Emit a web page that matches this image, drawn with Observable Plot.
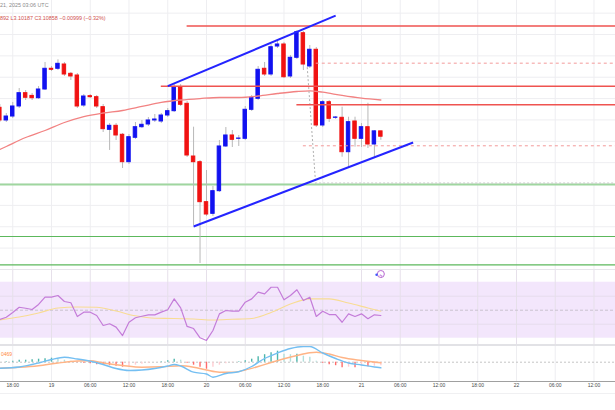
<!DOCTYPE html>
<html><head><meta charset="utf-8">
<script src="https://cdn.jsdelivr.net/npm/d3@7"></script>
<script src="https://cdn.jsdelivr.net/npm/@observablehq/plot@0.6"></script>
<style>
html,body{margin:0;padding:0;background:#fff;}
#root{position:relative;width:615px;height:410px;overflow:hidden;font-family:"Liberation Sans",Arial,sans-serif;background:#fff;}
.pane{position:absolute;left:0;width:615px;}
.pane svg{display:block;}
.sep{position:absolute;left:0;width:615px;z-index:5;}
.hdr{position:absolute;left:0;font-size:5.4px;line-height:1;white-space:nowrap;z-index:6;}
</style></head><body><div id="root">
<div class="pane" id="mainPane" style="top:0;height:270px"></div>
<div class="pane" id="rsiPane" style="top:270px;height:75px"></div>
<div class="pane" id="macdPane" style="top:345px;height:50px"></div>
</div>
<script>
// ---------- data ----------
const headerLine1 = "21, 2025 03:06 UTC";
const headerLine2 = "892  L3.10187  C3.10858  \u22120.00999 (\u22120.32%)";
const macdLabel = "0469";

const firstCandle = "01-18T16";
const lastCandleEnd = "01-21T04";
const opens  = [3.1627,3.1390,3.1464,3.1652,3.1901,3.1850,3.1807,3.1970,3.2358,3.2358,3.2438,3.2264,3.2232,3.1670,3.1845,3.1826,3.1639,3.1215,3.1290,3.1122,3.0609,3.1066,3.1264,3.1315,3.1390,3.1371,3.1483,3.1564,3.2002,3.1702,3.0715,3.0609,2.9860,2.9642,3.0066,3.0903,3.1109,3.1047,3.1047,3.1590,3.1796,3.2358,3.2251,3.2775,3.2813,3.2214,3.2564,3.3024,3.2401,3.2714,3.1296,3.1732,3.1440,3.1440,3.0796,3.1371,3.1047,3.1264,3.0940,3.1186];
const closes = [3.1390,3.1464,3.1652,3.1901,3.1815,3.1807,3.1970,3.2358,3.2339,3.2451,3.2251,3.2214,3.1652,3.1839,3.1826,3.1652,3.1227,3.1290,3.1109,3.0609,3.1077,3.1264,3.1309,3.1390,3.1408,3.1483,3.1564,3.2002,3.1684,3.0734,3.0609,2.9860,2.9629,3.0066,3.0903,3.1109,3.1028,3.1052,3.1590,3.1815,3.2339,3.2251,3.2762,3.2813,3.2200,3.2564,3.3043,3.2438,3.2714,3.1296,3.1732,3.1421,3.1446,3.0796,3.1358,3.1047,3.1264,3.0940,3.1186,3.1086];
const highs  = [3.1689,3.1521,3.1727,3.1989,3.1951,3.1895,3.2026,3.2476,3.2401,3.2526,3.2476,3.2288,3.2270,3.1876,3.1876,3.1858,3.1689,3.1333,3.1333,3.1146,3.1127,3.1352,3.1390,3.1446,3.1502,3.1521,3.1614,3.2064,3.2064,3.1745,3.1264,3.0640,3.0453,3.0154,3.1015,3.1258,3.1202,3.1109,3.1652,3.1858,3.2401,3.2476,3.2813,3.2888,3.2850,3.2607,3.3075,3.3056,3.2794,3.2757,3.1764,3.1764,3.1464,3.1639,3.1451,3.1451,3.1333,3.1713,3.1202,3.1189];
const lows   = [3.1352,3.1352,3.1427,3.1614,3.1764,3.1764,3.1783,3.1951,3.2307,3.2326,3.2214,3.2139,3.1614,3.1633,3.1802,3.1614,3.1165,3.0828,3.1015,3.0491,3.0566,3.1034,3.1240,3.1277,3.1352,3.1333,3.1446,3.1539,3.1652,3.0697,2.9423,2.8712,2.9592,2.9592,3.0041,3.0884,3.0884,3.0903,3.1015,3.1558,3.1764,3.2214,3.2214,3.2738,3.2176,3.2176,3.2532,3.2326,3.2363,3.1258,3.1258,3.1352,3.1408,3.0702,3.0491,3.0890,3.0884,3.0865,3.0702,3.1019];

const maTimes  = ["01-18T16","01-18T17","01-18T20","01-18T23","01-19T02","01-19T05","01-19T08","01-19T11","01-19T14","01-19T17","01-19T20","01-19T23","01-20T02","01-20T05","01-20T08","01-20T11","01-20T14","01-20T16","01-20T18","01-20T21","01-21T00","01-21T03"];
const maValues = [3.0846,3.0903,3.1071,3.1202,3.1352,3.1464,3.1530,3.1577,3.1652,3.1727,3.1773,3.1801,3.1820,3.1820,3.1848,3.1895,3.1933,3.1946,3.1919,3.1858,3.1807,3.1773];

const resistLevels = [3.3159, 3.2032, 3.1684];
const resistStarts = ["01-19T21","01-19T17","01-20T14"];
const dashedLevels = [3.2463, 3.0916];
const dashedStarts = ["01-20T17","01-20T15"];
const supportLevels = [3.0191, 2.9217, 2.8684];

const channelStart = ["01-19T18","01-19T22"];
const channelStartP = [3.2032, 2.9405];
const channelEnd = ["01-20T20","01-21T08"];
const channelEndP = [3.3354, 3.0978];

const measureTimes = ["2025-01-20T15:36:00Z","2025-01-20T16:54:00Z"];
const measurePrices = [3.2388, 3.0210];
const measureLevel = 3.0219;

const priceGrid = [2.86,2.90,2.94,2.98,3.02,3.06,3.10,3.14,3.18,3.22,3.26,3.30,3.34];

const rsiValues = [43.4,45.0,48.4,52.1,51.4,50.5,54.1,59.4,59.4,60.5,56.2,55.3,45.5,48.6,48.6,46.2,39.1,40.3,37.9,31.9,41.4,44.6,45.7,46.7,46.7,48.6,50.3,58.1,51.7,38.4,36.9,30.3,28.4,35.5,47.4,49.8,49.3,49.3,55.7,58.1,62.9,61.7,66.4,66.4,57.4,60.5,64.6,56.9,59.3,45.5,49.3,46.9,46.9,41.4,47.4,45.5,47.4,43.9,46.7,46.2];
const rsiMaTimes  = ["01-18T16","01-18T19","01-18T22","01-19T01","01-19T04","01-19T07","01-19T10","01-19T13","01-19T16","01-19T19","01-19T22","01-20T01","01-20T04","01-20T07","01-20T10","01-20T13","01-20T16","01-20T19","01-20T22","01-21T01","01-21T03"];
const rsiMaValues = [43.1,45.1,48.0,51.6,52.3,52.1,49.4,46.0,44.2,44.1,43.7,43.0,43.5,44.1,48.4,54.4,58.1,58.1,55.1,51.6,49.3];
const rsiBand = [30, 70];
const rsiGrid = [40, 60, 80];
const flashTime = "01-21T03";

const macdTimes  = ["01-18T16","01-18T19","01-18T22","01-19T00","01-19T02","01-19T04","01-19T06","01-19T08","01-19T10","01-19T12","01-19T14","01-19T16","01-19T18","01-19T19","01-19T20","01-19T22","01-20T00","01-20T01","01-20T03","01-20T05","01-20T07","01-20T09","01-20T11","01-20T13","01-20T15","01-20T16","01-20T18","01-20T20","01-20T22","01-21T00","01-21T02","01-21T03"];
const macdValues = [-0.0060,-0.0048,-0.0008,0.0027,0.0050,0.0032,0.0010,-0.0023,-0.0063,-0.0083,-0.0078,-0.0063,-0.0038,-0.0023,-0.0038,-0.0100,-0.0118,-0.0150,-0.0113,-0.0096,-0.0043,0.0037,0.0092,0.0137,0.0157,0.0157,0.0092,0.0037,-0.0008,-0.0028,-0.0048,-0.0056];
const signalTimes  = ["01-18T16","01-18T19","01-18T22","01-19T01","01-19T04","01-19T06","01-19T08","01-19T11","01-19T14","01-19T17","01-19T20","01-19T22","01-20T00","01-20T02","01-20T04","01-20T06","01-20T08","01-20T10","01-20T12","01-20T14","01-20T16","01-20T17","01-20T19","01-20T21","01-21T00","01-21T03"];
const signalValues = [-0.0060,-0.0051,-0.0035,-0.0008,0.0012,0.0015,-0.0008,-0.0033,-0.0050,-0.0046,-0.0036,-0.0050,-0.0078,-0.0100,-0.0100,-0.0078,-0.0043,-0.0003,0.0034,0.0067,0.0095,0.0100,0.0082,0.0047,0.0017,-0.0006];
const histValues = [0,0.0005,0.001,0.002,0.002,0.0025,0.003,0.0035,0.004,0.003,0.002,0.001,-0.0005,-0.001,-0.0015,-0.0025,-0.003,-0.0035,-0.004,-0.005,-0.004,-0.003,-0.002,-0.001,0,0.0005,0.0015,0.003,0.002,-0.001,-0.003,-0.005,-0.007,-0.005,-0.003,-0.0015,-0.0005,0.0005,0.0015,0.003,0.0055,0.0075,0.0095,0.011,0.008,0.0075,0.008,0.006,0.005,0.001,-0.001,-0.0025,-0.0035,-0.0055,-0.005,-0.0055,-0.004,-0.0045,-0.004,-0.0035];

const xTickStart = "01-18T18";
const xTickEnd = "01-22T13";
const xTickLabels = ["18:00","19","06:00","12:00","18:00","20","06:00","12:00","18:00","21","06:00","12:00","18:00","22","06:00","12:00"];

// ---------- scales / helpers ----------
const T = s => new Date(`2025-${s}:00:00Z`);
const xDomain = [new Date("2025-01-18T16:06:11Z"), new Date("2025-01-22T15:20:02Z")];
const priceDomain = [2.85805, 3.36367];
const rsiDomain = [24.79, 78.36];
const macdDomain = [-0.0193, 0.0167];

const times = d3.utcHour.range(T(firstCandle), T(lastCandleEnd));
const candles = times.map((t, i) => ({t, o: opens[i], h: highs[i], l: lows[i], c: closes[i]}));
const bodyColor = d => d.c >= d.o ? "#1212f0" : "#f01212";
const xTicks = d3.utcHour.every(6).range(T(xTickStart), T(xTickEnd));
const maData = maTimes.map((s, i) => ({t: T(s), v: maValues[i]}));
const resist = resistLevels.map((p, i) => ({p, start: T(resistStarts[i])}));
const dashed = dashedLevels.map((p, i) => ({p, start: T(dashedStarts[i])}));
const channel = channelStart.map((s, i) => ({x1: T(s), y1: channelStartP[i], x2: T(channelEnd[i]), y2: channelEndP[i]}));
const rsiData = times.map((t, i) => ({t, v: rsiValues[i]}));
const rsiMa = rsiMaTimes.map((s, i) => ({t: T(s), v: rsiMaValues[i]}));
const macdData = macdTimes.map((s, i) => ({t: T(s), v: macdValues[i]}));
const signalData = signalTimes.map((s, i) => ({t: T(s), v: signalValues[i]}));
const hist = times.map((t, i) => {
  const v = histValues[i], prev = i > 0 ? histValues[i - 1] : v;
  let color;
  if (v >= 0) color = v >= prev ? "#4db6ac" : "#b2dfdb";
  else color = v <= prev ? "#ff6b6b" : "#ffcdd2";
  return {t, v, color};
});

const common = {
  width: 615, margin: 0,
  style: {background: "transparent", fontFamily: "Liberation Sans, Arial, sans-serif"},
  x: {type: "utc", domain: xDomain, axis: null},
  color: {type: "identity"}
};

// ---------- main price pane ----------
const mainPlot = Plot.plot({
  ...common, height: 270,
  y: {domain: priceDomain, axis: null},
  marks: [
    Plot.ruleY(priceGrid, {stroke: "#eeeef1", strokeWidth: 1}),
    Plot.ruleX(xTicks, {stroke: "#eeeef1", strokeWidth: 1}),
    Plot.ruleY([supportLevels[0]], {stroke: "#9fd69f", strokeWidth: 2}),
    Plot.ruleY(supportLevels.slice(1), {stroke: "#5cb85c", strokeWidth: 1.2}),
    Plot.ruleX(candles, {x: "t", y1: "l", y2: "h", stroke: "#b8b8b8", strokeWidth: 1}),
    Plot.rect(candles, {
      x1: d => new Date(+d.t - 16 * 6e4), x2: d => new Date(+d.t + 16 * 6e4),
      y1: d => Math.min(d.o, d.c), y2: d => Math.max(d.o, d.c),
      fill: bodyColor, stroke: bodyColor, strokeWidth: 1
    }),
    Plot.line(maData, {x: "t", y: "v", stroke: "#f28282", strokeWidth: 1.3, curve: "monotone-x"}),
    Plot.link([0], {x1: () => new Date(measureTimes[0]), y1: () => measurePrices[0], x2: () => new Date(measureTimes[1]), y2: () => measurePrices[1], stroke: "#b0b0b0", strokeWidth: 1, strokeDasharray: "2,2"}),
    Plot.ruleY([measureLevel], {x1: () => new Date(measureTimes[1]), x2: () => xDomain[1], stroke: "#c8c8c8", strokeWidth: 1, strokeDasharray: "2,2"}),
    Plot.ruleY(resist, {y: "p", x1: "start", x2: () => xDomain[1], stroke: "#ef5350", strokeWidth: 1.6}),
    Plot.ruleY(dashed, {y: "p", x1: "start", x2: () => xDomain[1], stroke: "#f39a9a", strokeWidth: 1, strokeDasharray: "3,3"}),
    Plot.link(channel, {x1: "x1", y1: "y1", x2: "x2", y2: "y2", stroke: "#2424ff", strokeWidth: 2})
  ]
});
document.getElementById("mainPane").appendChild(mainPlot);

// ---------- RSI pane ----------
const rsiPlot = Plot.plot({
  ...common, height: 75,
  y: {domain: rsiDomain, axis: null},
  marks: [
    Plot.rect([rsiBand], {x1: () => xDomain[0], x2: () => xDomain[1], y1: d => d[0], y2: d => d[1], fill: "#f3e6fc"}),
    Plot.ruleY(rsiGrid, {stroke: "#e6dced", strokeWidth: 1}),
    Plot.ruleX(xTicks, {stroke: "#e6e0ea", strokeWidth: 1}),
    Plot.ruleY([50], {stroke: "#c9c2cf", strokeWidth: 1, strokeDasharray: "3,2"}),
    Plot.line(rsiMa, {x: "t", y: "v", stroke: "#f8dc93", strokeWidth: 1.1, curve: "monotone-x"}),
    Plot.line(rsiData, {x: "t", y: "v", stroke: "#c47cd9", strokeWidth: 1.2}),
    Plot.dot([flashTime], {x: d => T(d), frameAnchor: "top", dy: 3.5, r: 3.5, stroke: "#b868d0", fill: "#ffffff", strokeWidth: 1}),
    Plot.text([flashTime], {x: d => T(d), frameAnchor: "top", dy: 3.7, text: () => "\u03DF", fontSize: 5, fill: "#b868d0"}),
    Plot.dot([flashTime], {x: d => T(d), frameAnchor: "top", dy: 4.3, dx: -4.3, r: 1.2, fill: "#3d5afe"})
  ]
});
document.getElementById("rsiPane").appendChild(rsiPlot);

// ---------- MACD pane + time axis ----------
const macdPlot = Plot.plot({
  ...common, height: 50, marginBottom: 14,
  y: {domain: macdDomain, axis: null},
  marks: [
    Plot.ruleX(xTicks, {stroke: "#eeeef1", strokeWidth: 1}),
    Plot.ruleY([0], {stroke: "#c4c4c4", strokeWidth: 1, strokeDasharray: "2,2"}),
    Plot.ruleX(hist, {x: "t", y1: 0, y2: "v", stroke: "color", strokeWidth: 1.4}),
    Plot.line(signalData, {x: "t", y: "v", stroke: "#ffb486", strokeWidth: 1.4, curve: "monotone-x"}),
    Plot.line(macdData, {x: "t", y: "v", stroke: "#74bff2", strokeWidth: 1.4, curve: "monotone-x"}),
    Plot.ruleY([macdDomain[0]], {stroke: "#a0a0a0", strokeWidth: 1}),
    Plot.text(xTicks, {x: d => d, text: (d, i) => xTickLabels[i], frameAnchor: "bottom", dy: 5.5, fontSize: 5, fill: "#4a4a4a"}),
    Plot.text([macdLabel], {frameAnchor: "top-left", dx: 0.5, dy: 6.7, textAnchor: "start", fontSize: 5, fill: "#ff8a3d"})
  ]
});
document.getElementById("macdPane").appendChild(macdPlot);

// ---------- header & separators ----------
const root = document.getElementById("root");
function addDiv(cls, css, text) {
  const d = document.createElement("div");
  d.className = cls; d.style.cssText = css;
  if (text) d.textContent = text;
  root.appendChild(d);
}
addDiv("hdr", "top:3px;color:#8a8a8a;", headerLine1);
addDiv("hdr", "top:16px;color:#d0504c;", headerLine2);
addDiv("sep", "top:269px;height:1px;background:#e6e6ea;");
addDiv("sep", "top:344px;height:1.5px;background:#e2e2e6;");
addDiv("sep", "top:393px;height:1px;background:#f0f0f2;");
</script></body></html>
